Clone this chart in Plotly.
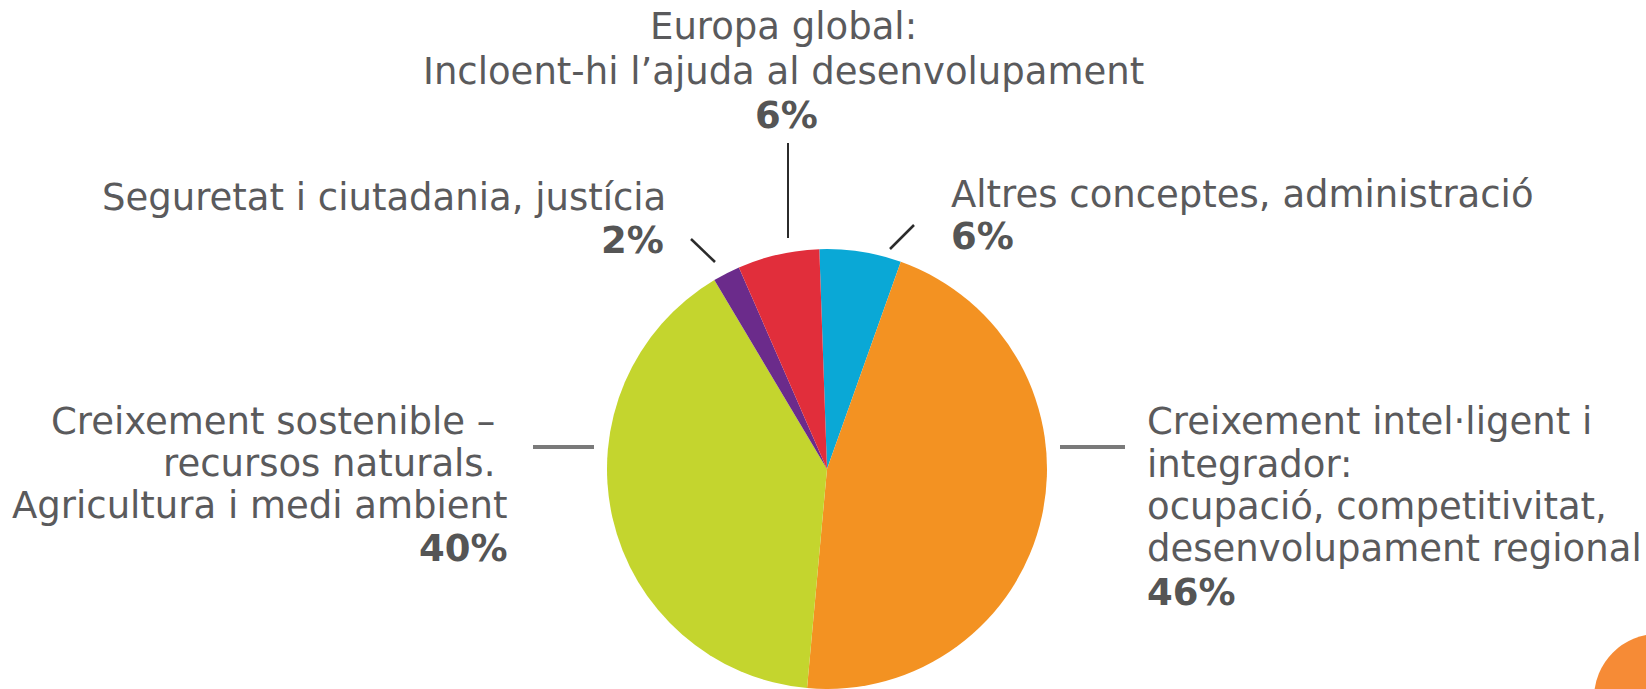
import plotly.graph_objects as go

# Budget shares, clockwise from 12 o'clock
categories = [
    "Altres conceptes, administració",
    "Creixement intel·ligent i integrador",
    "Creixement sostenible – recursos naturals",
    "Seguretat i ciutadania, justícia",
    "Europa global",
]
shares = [6, 46, 40, 2, 6]
colors = ["#0aa8d6", "#f39222", "#c4d52e", "#6b2b8b", "#e12e3b"]

W, H = 1646, 689
FONT = "DejaVu Sans"
TXT = "#5a5a5c"
FS = 37
R = 220  # pie radius in px
CX = 827

fig = go.Figure()

fig.add_trace(go.Pie(
    labels=categories,
    values=shares,
    sort=False,
    direction="clockwise",
    rotation=-2,
    marker=dict(colors=colors, line=dict(width=0)),
    textinfo="none",
    hoverinfo="label+percent",
    domain=dict(x=[(CX - R) / W, (CX + R) / W], y=[0, 2 * R / H]),
))

# Label blocks: (text, x, baseline, anchor, bold)
label_lines = [
    ("Europa global:", 783, 39, "center", False),
    ("Incloent-hi l’ajuda al desenvolupament", 783, 84, "center", False),
    ("6%", 786, 128, "center", True),
    ("Seguretat i ciutadania, justícia", 667, 210, "right", False),
    ("2%", 665, 253, "right", True),
    ("Altres conceptes, administració", 950, 207, "left", False),
    ("6%", 950, 249, "left", True),
    ("Creixement sostenible –", 496, 434, "right", False),
    ("recursos naturals.", 496, 476, "right", False),
    ("Agricultura i medi ambient", 509, 518, "right", False),
    ("40%", 509, 561, "right", True),
    ("Creixement intel·ligent i", 1146, 434, "left", False),
    ("integrador:", 1146, 477, "left", False),
    ("ocupació, competitivitat,", 1146, 519, "left", False),
    ("desenvolupament regional", 1146, 561, "left", False),
    ("46%", 1146, 605, "left", True),
]

for text, x, base, anchor, bold in label_lines:
    fig.add_annotation(
        x=x, y=base - 0.346 * FS, xref="x", yref="y",
        text=f"<b>{text}</b>" if bold else text,
        showarrow=False, xanchor=anchor, yanchor="middle",
        font=dict(family=FONT, size=FS, color="#555555" if bold else TXT),
        borderpad=0,
    )

# Leader lines
leaders = [
    (788, 143, 788, 238, "#2b2b2b", 2),
    (691, 239, 715, 262, "#2b2b2b", 2.5),
    (914, 225, 890, 249, "#2b2b2b", 2.5),
    (533, 447, 594, 447, "#7a7a7a", 4),
    (1060, 447, 1125, 447, "#7a7a7a", 4),
]
for x0, y0, x1, y1, c, w in leaders:
    fig.add_shape(type="line", x0=x0, y0=y0, x1=x1, y1=y1, xref="x", yref="y",
                  line=dict(color=c, width=w))

# Corner accent
fig.add_shape(type="circle", x0=1658 - 64, y0=698 - 64, x1=1658 + 64, y1=698 + 64,
              xref="x", yref="y", fillcolor="#f68b36", line=dict(width=0))

fig.update_layout(
    width=W, height=H,
    margin=dict(l=0, r=0, t=0, b=0),
    paper_bgcolor="white", plot_bgcolor="rgba(0,0,0,0)",
    showlegend=False,
    xaxis=dict(range=[0, W], visible=False, fixedrange=True),
    yaxis=dict(range=[H, 0], visible=False, fixedrange=True),
)

fig.write_html("out.html")
